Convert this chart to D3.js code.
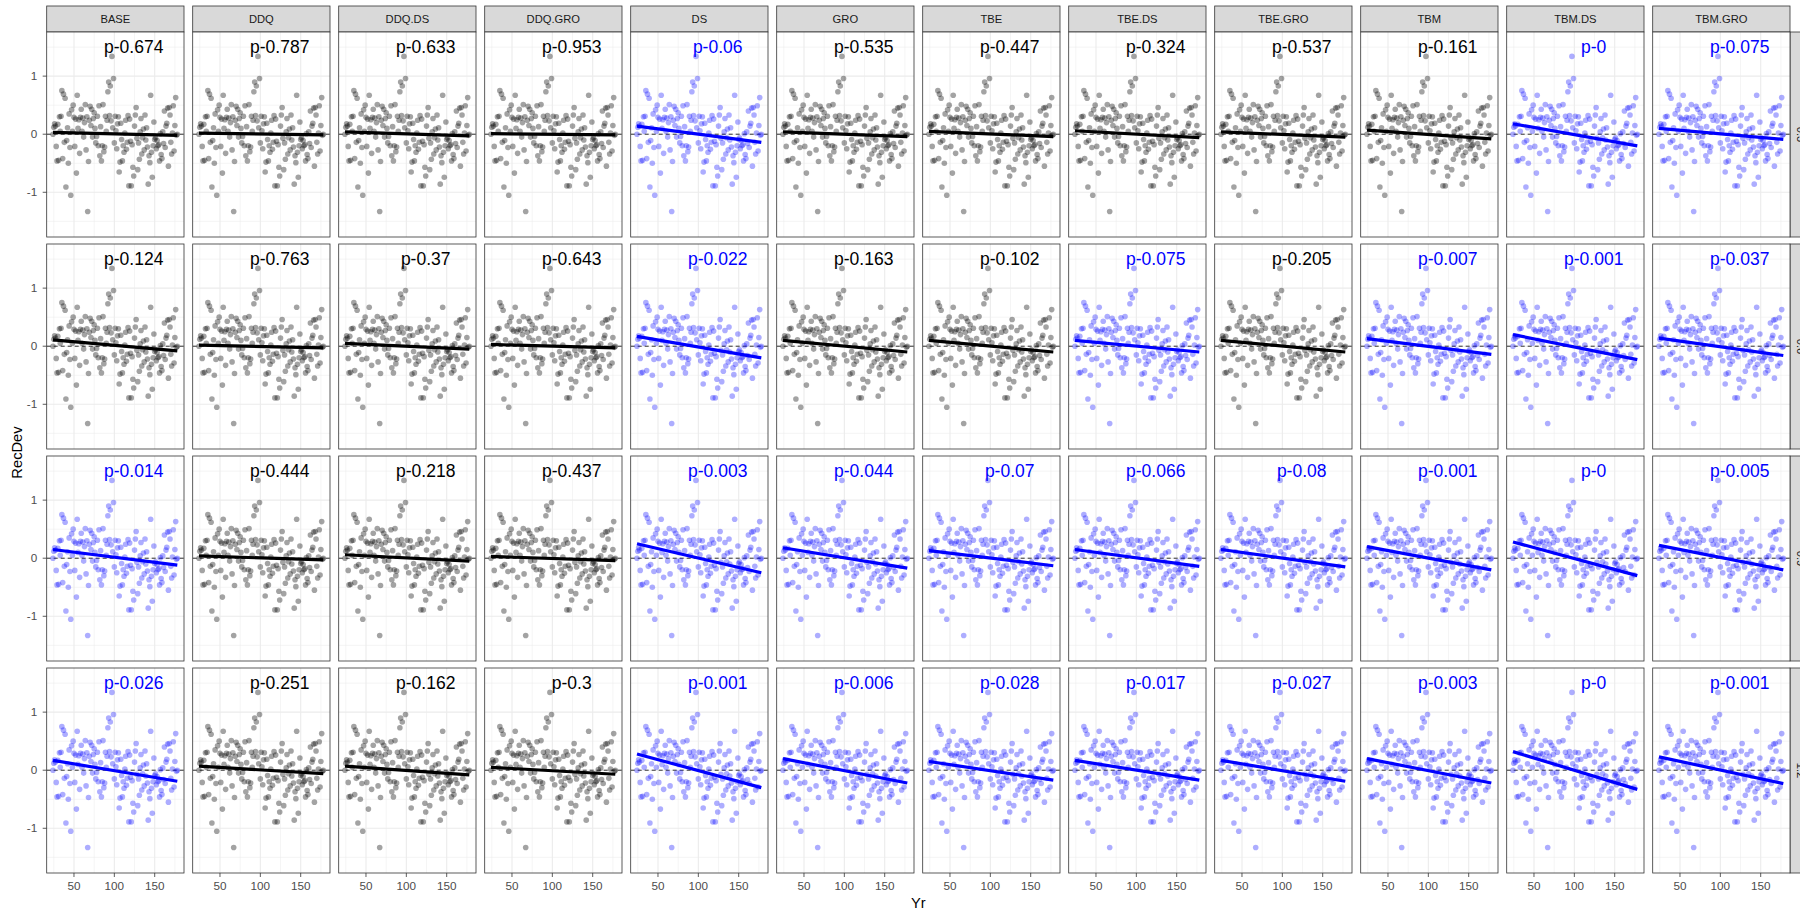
<!DOCTYPE html>
<html>
<head>
<meta charset="utf-8">
<script src="https://cdn.jsdelivr.net/npm/d3@7"></script>
<style>
  body { margin: 0; background: #ffffff; }
  svg { display: block; font-family: "Liberation Sans", Arial, sans-serif; }
</style>
</head>
<body>
<svg id="chart" width="1800" height="912"></svg>
<script>
// Model columns (facet columns) and scenario rows (facet rows)
const models = ["BASE", "DDQ", "DDQ.DS", "DDQ.GRO", "DS", "GRO", "TBE", "TBE.DS", "TBE.GRO", "TBM", "TBM.DS", "TBM.GRO"];
const scenarios = ["0.3", "0.6", "0.9", "1.2"];

// Recruitment deviations, one value per year starting at firstYear
const firstYear = 24;
const recDev = [
   0.00,  0.12,  0.18,  0.14, -0.21, -0.46,  0.17, -0.45,  0.30,  0.05,
   0.31,  0.75, -0.42,  0.69, -0.14,  0.62, -0.91, -0.11,  0.11, -0.50,
   0.35, -0.23, -1.05,  0.42,  0.05,  0.50,  0.29, -0.21,  0.26, -0.67,
   0.67,  0.10,  0.25, -0.33,  0.29,  0.43,  0.05,  0.28, -0.05,  0.20,
   0.51, -0.27,  0.30, -1.33, -0.47,  0.24,  0.48,  0.15,  0.43, -0.05,
   0.27,  0.37,  0.10, -0.15, -0.04,  0.31, -0.20,  0.49, -0.37,  0.13,
  -0.46, -0.20,  0.51, -0.30, -0.22,  0.31,  0.05,  0.24,  0.73,  0.90,
   0.32,  0.83,  0.23,  1.34,  0.11,  0.96, -0.15,  0.31,  0.06, -0.25,
   0.18,  0.30, -0.65, -0.48,  0.19, -0.09, -0.46, -0.20, -0.31,  0.02,
   0.24, -0.26, -0.14,  0.32, -0.89,  0.26, -0.12, -0.89, -0.18, -0.57,
  -0.72,  0.14,  0.33,  0.46, -0.07, -0.61, -0.15, -0.43,  0.04,  0.27,
  -0.34, -0.06,  0.09, -0.27,  0.33, -0.10,  0.11, -0.22, -0.86, -0.37,
  -0.49,  0.67, -0.31, -0.74, -0.20,  0.21, -0.09, -0.06, -0.25, -0.11,
  -0.20, -0.18, -0.46,  0.01, -0.35, -0.42,  0.04, -0.16,  0.40, -0.23,
   0.14,  0.19,  0.45, -0.55,  0.46,  0.33, -0.14, -0.34,  0.02,  0.49,
  -0.29,  0.15,  0.63, -0.02,  0.00
];

// p-values of the trend test, by scenario row and model column
const pValues = [
  [0.674, 0.787, 0.633, 0.953, 0.06,  0.535, 0.447, 0.324, 0.537, 0.161, 0,     0.075],
  [0.124, 0.763, 0.37,  0.643, 0.022, 0.163, 0.102, 0.075, 0.205, 0.007, 0.001, 0.037],
  [0.014, 0.444, 0.218, 0.437, 0.003, 0.044, 0.07,  0.066, 0.08,  0.001, 0,     0.005],
  [0.026, 0.251, 0.162, 0.3,   0.001, 0.006, 0.028, 0.017, 0.027, 0.003, 0,     0.001]
];

// Fitted trend line: value at the first and at the last year
const fitStart = [
  [0.03, 0.02, 0.04, 0.01, 0.14, 0.04, 0.05, 0.06, 0.04, 0.07, 0.18, 0.10],
  [0.11, 0.02, 0.05, 0.03, 0.17, 0.10, 0.10, 0.10, 0.10, 0.13, 0.20, 0.14],
  [0.15, 0.04, 0.06, 0.03, 0.25, 0.18, 0.13, 0.15, 0.15, 0.20, 0.28, 0.22],
  [0.17, 0.07, 0.07, 0.05, 0.28, 0.20, 0.15, 0.17, 0.17, 0.20, 0.32, 0.23]
];
const fitEnd = [
  [-0.02, -0.01, -0.03, -0.01, -0.14, -0.04, -0.04, -0.06, -0.05, -0.08, -0.20, -0.09],
  [-0.08, -0.03, -0.05, -0.03, -0.20, -0.10, -0.10, -0.10, -0.10, -0.14, -0.23, -0.16],
  [-0.12, -0.03, -0.05, -0.04, -0.25, -0.17, -0.13, -0.14, -0.15, -0.20, -0.30, -0.20],
  [-0.19, -0.06, -0.08, -0.07, -0.30, -0.22, -0.17, -0.17, -0.19, -0.22, -0.33, -0.23]
];

const xTicks = [50, 100, 150];
const xMinor = [25, 75, 125, 175];
const yTicks = [-1, 0, 1];
const yMinor = [-1.5, -0.5, 0.5, 1.5];
const signifLevel = 0.1;

// ---- layout ----
const panelLeft = 46.7, colStep = 146, panelW = 137.3;
const panelTop = 32, rowStep = 212, panelH = 205;
const stripTop = 6;

const data = recDev.map((v, i) => ({ yr: firstYear + i, v }));
const lastYear = firstYear + recDev.length - 1;

const x = d3.scaleLinear().domain([16.2, 186.3]).range([0, panelW]);
const y = d3.scaleLinear().domain([-1.77, 1.76]).range([panelH, 0]);

const svg = d3.select("#chart");
svg.append("rect").attr("width", 1800).attr("height", 912).attr("fill", "#ffffff");

const defs = svg.append("defs");
defs.append("clipPath").attr("id", "panelClip")
  .append("rect").attr("width", panelW).attr("height", panelH);

const gridCol = "#ebebeb", frameCol = "#333333", tickCol = "#4d4d4d";

// column strips
models.forEach((m, c) => {
  const g = svg.append("g").attr("transform", `translate(${panelLeft + c * colStep},${stripTop})`);
  g.append("rect").attr("width", panelW).attr("height", panelTop - stripTop)
    .attr("fill", "#d9d9d9").attr("stroke", frameCol).attr("stroke-width", 0.8);
  g.append("text").attr("x", panelW / 2).attr("y", (panelTop - stripTop) / 2 + 4)
    .attr("text-anchor", "middle").attr("font-size", 11.2).attr("fill", "#1a1a1a").text(m);
});

// row strips on the right (they run past the right edge of the page)
const rightStripX = panelLeft + 11 * colStep + panelW;
scenarios.forEach((s, r) => {
  const g = svg.append("g").attr("transform", `translate(${rightStripX},${panelTop + r * rowStep})`);
  g.append("rect").attr("width", 22).attr("height", panelH)
    .attr("fill", "#d9d9d9").attr("stroke", frameCol).attr("stroke-width", 0.8);
  g.append("text").attr("transform", `translate(${11 - 4},${panelH / 2}) rotate(90)`)
    .attr("text-anchor", "middle").attr("font-size", 11.2).attr("fill", "#1a1a1a").text(s);
});

scenarios.forEach((s, r) => {
  models.forEach((m, c) => {
    const p = pValues[r][c];
    const sig = p < signifLevel;
    const col = sig ? "#0000ff" : "#000000";
    const g = svg.append("g")
      .attr("transform", `translate(${panelLeft + c * colStep},${panelTop + r * rowStep})`);

    g.append("rect").attr("width", panelW).attr("height", panelH).attr("fill", "#ffffff");

    // grid
    const grid = g.append("g");
    xMinor.forEach(t => grid.append("line").attr("x1", x(t)).attr("x2", x(t))
      .attr("y1", 0).attr("y2", panelH).attr("stroke", gridCol).attr("stroke-width", 0.55));
    yMinor.forEach(t => grid.append("line").attr("y1", y(t)).attr("y2", y(t))
      .attr("x1", 0).attr("x2", panelW).attr("stroke", gridCol).attr("stroke-width", 0.55));
    xTicks.forEach(t => grid.append("line").attr("x1", x(t)).attr("x2", x(t))
      .attr("y1", 0).attr("y2", panelH).attr("stroke", gridCol).attr("stroke-width", 1.1));
    yTicks.forEach(t => grid.append("line").attr("y1", y(t)).attr("y2", y(t))
      .attr("x1", 0).attr("x2", panelW).attr("stroke", gridCol).attr("stroke-width", 1.1));

    const inner = g.append("g").attr("clip-path", "url(#panelClip)");

    // reference line at zero
    inner.append("line").attr("x1", 0).attr("x2", panelW).attr("y1", y(0)).attr("y2", y(0))
      .attr("stroke", "#000").attr("stroke-width", 0.8).attr("stroke-dasharray", "4,3");

    // recruitment deviations
    inner.selectAll("circle").data(data).join("circle")
      .attr("cx", d => x(d.yr)).attr("cy", d => y(d.v)).attr("r", 2.8)
      .attr("fill", col).attr("fill-opacity", sig ? 0.32 : 0.36);

    // fitted trend
    inner.append("line")
      .attr("x1", x(firstYear)).attr("y1", y(fitStart[r][c]))
      .attr("x2", x(lastYear)).attr("y2", y(fitEnd[r][c]))
      .attr("stroke", col).attr("stroke-width", 3.2);

    // p-value label
    g.append("text").attr("x", x(124)).attr("y", y(1.5) + 6.3)
      .attr("text-anchor", "middle").attr("font-size", 17.5).attr("fill", col)
      .text("p-" + p);

    // frame
    g.append("rect").attr("width", panelW).attr("height", panelH)
      .attr("fill", "none").attr("stroke", frameCol).attr("stroke-width", 0.8);

    // y axis on first column
    if (c === 0) {
      yTicks.forEach(t => {
        g.append("line").attr("x1", -4).attr("x2", 0).attr("y1", y(t)).attr("y2", y(t))
          .attr("stroke", frameCol).attr("stroke-width", 0.8);
        g.append("text").attr("x", -9.5).attr("y", y(t) + 4.1).attr("text-anchor", "end")
          .attr("font-size", 11.7).attr("fill", tickCol).text(t);
      });
    }
    // x axis on last row
    if (r === scenarios.length - 1) {
      xTicks.forEach(t => {
        g.append("line").attr("x1", x(t)).attr("x2", x(t)).attr("y1", panelH).attr("y2", panelH + 4)
          .attr("stroke", frameCol).attr("stroke-width", 0.8);
        g.append("text").attr("x", x(t)).attr("y", panelH + 17.3).attr("text-anchor", "middle")
          .attr("font-size", 11.7).attr("fill", tickCol).text(t);
      });
    }
  });
});

// axis titles
svg.append("text").attr("x", panelLeft + (11 * colStep + panelW) / 2).attr("y", 908)
  .attr("text-anchor", "middle").attr("font-size", 14.7).attr("fill", "#000").text("Yr");
svg.append("text").attr("transform", `translate(21.5,${panelTop + (3 * rowStep + panelH) / 2}) rotate(-90)`)
  .attr("text-anchor", "middle").attr("font-size", 14.7).attr("fill", "#000").text("RecDev");
</script>
</body>
</html>
